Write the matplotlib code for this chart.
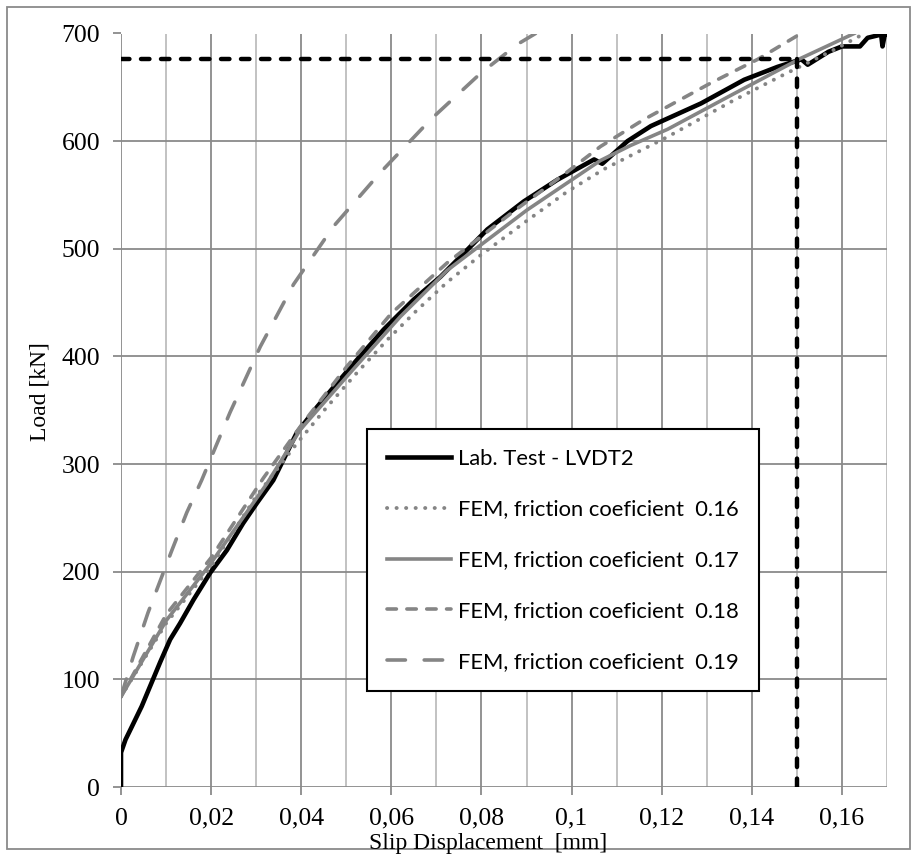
import matplotlib
matplotlib.use("Agg")
import matplotlib.pyplot as plt
from matplotlib.patches import Rectangle
from matplotlib.ticker import MultipleLocator, FuncFormatter

# Laboratory test, LVDT2 (slip in mm, load in kN)
lab_x = [0, 0, 0.001, 0.0024, 0.0046, 0.0064, 0.0087, 0.0109, 0.0131, 0.0161,
         0.0198, 0.0235, 0.0271, 0.0302, 0.0338, 0.039, 0.0435, 0.0479, 0.0524,
         0.0583, 0.065, 0.0709, 0.0766, 0.0813, 0.0894, 0.0968, 0.105,
         0.1068, 0.1124, 0.1176, 0.1287, 0.1383, 0.1457, 0.151, 0.1524, 0.157,
         0.16, 0.164, 0.1657, 0.1687, 0.169, 0.1695, 0.170]
lab_y = [0, 32, 44, 56, 75, 93, 116, 137, 152, 174,
         199, 220, 245, 264, 285, 329, 353, 375, 397,
         425, 453, 474, 498, 518, 544, 564, 583,
         579, 600, 614, 635, 657, 669, 676, 671, 683,
         688, 688, 696, 699, 688, 699, 699]

# FEM results for each friction coefficient
fem16_x = [0, 0.01, 0.02, 0.03, 0.039, 0.0457, 0.0524, 0.059, 0.0657, 0.0724,
           0.0798, 0.0894, 0.099, 0.1072, 0.1213, 0.136, 0.1472, 0.1583, 0.165]
fem16_y = [84, 152, 205, 270, 319, 353, 385, 415, 443, 469,
           494, 524, 553, 574, 604, 638, 662, 685, 700]

fem17_x = [0, 0.0101, 0.0198, 0.0324, 0.0398, 0.0509, 0.062, 0.0724, 0.0901,
           0.1064, 0.1131, 0.1213, 0.136, 0.1509, 0.1627]
fem17_y = [84, 155, 207, 282, 332, 385, 437, 480, 536,
           582, 596, 611, 644, 677, 700]

fem18_x = [0, 0.01, 0.02, 0.0316, 0.04, 0.05, 0.06, 0.0724, 0.0798, 0.0872,
           0.0983, 0.1064, 0.116, 0.1309, 0.1413, 0.1509]
fem18_y = [84, 160, 213, 287, 336, 390, 440, 487, 511, 535,
           569, 595, 620, 654, 676, 700]

fem19_x = [0, 0.0027, 0.006, 0.0113, 0.0146, 0.0179, 0.0242, 0.0309, 0.0383,
           0.0472, 0.0576, 0.0687, 0.0798, 0.088, 0.092]
fem19_y = [84, 121, 162, 220, 255, 285, 348, 409, 467,
           521, 571, 620, 663, 690, 700]

# Reference level: load at 0.15 mm slip
ref_slip = 0.15
ref_load = 676

labels = ["Lab. Test - LVDT2",
          "FEM, friction coeficient  0.16",
          "FEM, friction coeficient  0.17",
          "FEM, friction coeficient  0.18",
          "FEM, friction coeficient  0.19"]

W, H = 917, 856
fig = plt.figure(figsize=(W / 100, H / 100), dpi=100)
ax = fig.add_axes([121 / W, 1 - 787 / H, (887 - 121) / W, (787 - 33.5) / H])

grey = "#858585"
ax.plot(lab_x, lab_y, color="black", lw=3.3, solid_joinstyle="round",
        label=labels[0], zorder=3)
ax.plot(fem16_x, fem16_y, color=grey, lw=2.8, linestyle=(0, (0.05, 2.4)),
        dash_capstyle="round", label=labels[1], zorder=4)
ax.plot(fem17_x, fem17_y, color=grey, lw=2.6, label=labels[2], zorder=4)
ax.plot(fem18_x, fem18_y, color=grey, lw=2.6, linestyle=(0, (2.6, 2.9)),
        dash_capstyle="round", label=labels[3], zorder=4)
ax.plot(fem19_x, fem19_y, color=grey, lw=2.6, linestyle=(0, (5.1, 5.2)),
        dash_capstyle="round", label=labels[4], zorder=4)

ref_style = dict(color="black", lw=3.2, linestyle=(0, (1.9, 2.6)),
                 dash_capstyle="round", zorder=5)
ax.plot([0, ref_slip], [ref_load, ref_load], **ref_style)
ax.plot([ref_slip, ref_slip], [0, ref_load], **ref_style)

ax.set_xlim(0, 0.17)
ax.set_ylim(0, 700)
ax.xaxis.set_major_locator(MultipleLocator(0.02))
ax.xaxis.set_minor_locator(MultipleLocator(0.01))
ax.yaxis.set_major_locator(MultipleLocator(100))


def comma_fmt(v, pos):
    s = f"{v:.2f}".rstrip("0").rstrip(".")
    return s.replace(".", ",")


ax.xaxis.set_major_formatter(FuncFormatter(comma_fmt))

for s in ax.spines.values():
    s.set_visible(False)
ax.grid(which="major", axis="both", color="#8a8a8a", lw=1.3, zorder=0)
ax.grid(which="minor", axis="x", color="#bdbdbd", lw=1.3, zorder=0)
ax.tick_params(which="major", direction="out", length=6, width=1.3,
               color="#8a8a8a", pad=9, labelsize=18.5)
ax.tick_params(which="minor", length=0)
for t in ax.get_xticklabels() + ax.get_yticklabels():
    t.set_fontfamily("Liberation Serif")

fig.text(40 / W, 1 - 392 / H, "Load [kN]", rotation=90, ha="center",
         va="center", fontsize=17, family="Liberation Serif")
fig.text(488 / W, 1 - 843 / H, "Slip Displacement  [mm]", ha="center",
         va="center", fontsize=17, family="Liberation Serif")

leg = ax.legend(loc="upper left", bbox_to_anchor=(367 / W, 1 - 429 / H),
                bbox_transform=fig.transFigure, borderaxespad=0,
                prop={"family": "Lato", "size": 15.8}, fancybox=False,
                edgecolor="black", framealpha=1, handlelength=2.95,
                handletextpad=0.3, labelspacing=1.40, borderpad=0.9)
leg.get_frame().set_linewidth(1.5)

fig.patches.append(Rectangle((7 / W, 1 - 849 / H), (910 - 7) / W, (849 - 7) / H,
                             transform=fig.transFigure, fill=False,
                             edgecolor="#8a8a8a", lw=1.3))

fig.savefig("out.png", dpi=100)
